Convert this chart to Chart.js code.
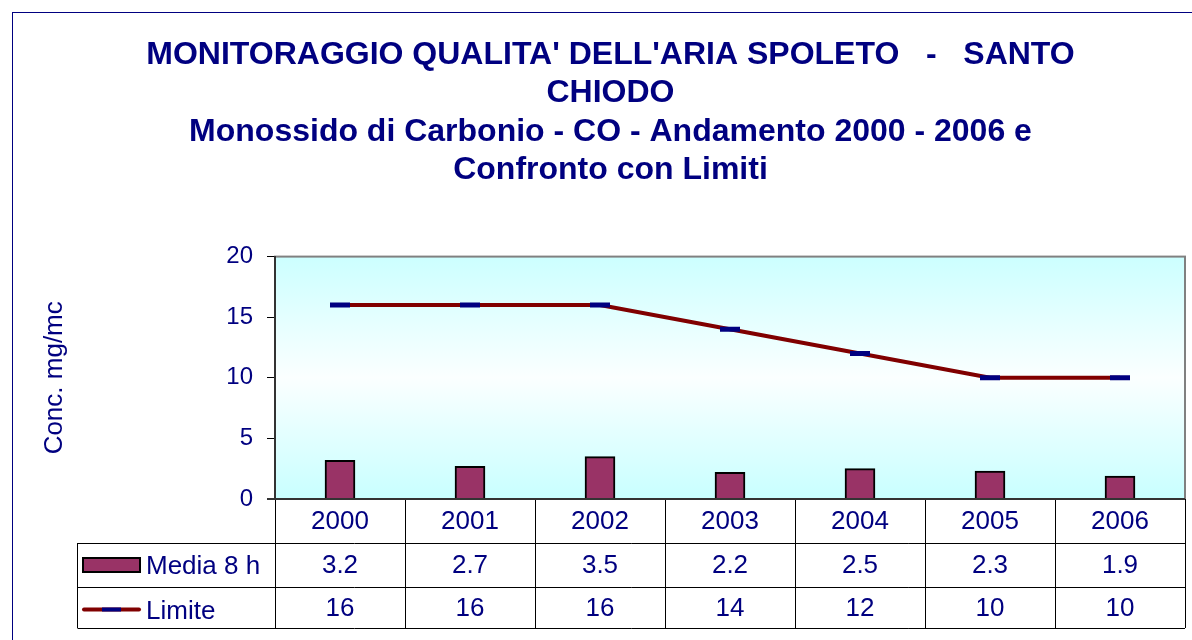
<!DOCTYPE html>
<html>
<head>
<meta charset="utf-8">
<script src="https://cdn.jsdelivr.net/npm/chart.js@4.4.1/dist/chart.umd.min.js"></script>
<style>
    html, body { margin: 0; padding: 0; background: #ffffff; }
    #wrap { width: 1192px; height: 640px; }
</style>
</head>
<body>
<div id="wrap"><canvas id="coChart" width="1192" height="640"></canvas></div>
<script>
// dati
const anni   = ['2000', '2001', '2002', '2003', '2004', '2005', '2006'];
const media8h = [3.2, 2.7, 3.5, 2.2, 2.5, 2.3, 1.9];
const limite  = [16, 16, 16, 14, 12, 10, 10];
const yTicks  = [0, 5, 10, 15, 20];

const navy = '#000080';
const font = 'Liberation Sans, Arial, sans-serif';

// sfondo area grafico + cornice esterna
const background = {
    id: 'background',
    beforeDraw(chart) {
        const ctx = chart.ctx;
        const a = chart.chartArea;
        ctx.save();
        ctx.strokeStyle = navy;
        ctx.lineWidth = 1;
        ctx.strokeRect(12.5, 12.5, chart.width + 20, chart.height + 20);

        let grad = ctx.createLinearGradient(0, a.top, 0, a.bottom);
        grad.addColorStop(0, '#ccffff');
        grad.addColorStop(0.5, '#fbffff');
        grad.addColorStop(1, '#c8ffff');
        ctx.fillStyle = grad;
        ctx.fillRect(a.left, a.top, a.right - a.left, a.bottom - a.top);
        ctx.strokeStyle = '#808080';
        ctx.lineWidth = 2;
        ctx.strokeRect(a.left, a.top, a.right - a.left, a.bottom - a.top);
        ctx.restore();
    }
};

// tabella dati sotto il grafico
const dataTable = {
    id: 'dataTable',
    afterDraw(chart) {
        const ctx = chart.ctx;
        const a = chart.chartArea;
        const x = chart.scales.x;
        const half = (a.right - a.left) / anni.length / 2;
        const rows = [a.bottom, a.bottom + 44, a.bottom + 88, a.bottom + 129];
        const legLeft = 77.5;

        ctx.save();
        ctx.strokeStyle = '#000000';
        ctx.lineWidth = 1;
        ctx.beginPath();
        for (let r = 1; r < rows.length; r++) {
            ctx.moveTo(legLeft, Math.round(rows[r]) + 0.5);
            ctx.lineTo(a.right, Math.round(rows[r]) + 0.5);
        }
        ctx.moveTo(legLeft, rows[1]);
        ctx.lineTo(legLeft, rows[3]);
        for (let i = 0; i < anni.length; i++) {
            let px = Math.round(x.getPixelForValue(i) - half) + 0.5;
            ctx.moveTo(px, rows[0]);
            ctx.lineTo(px, rows[3]);
        }
        ctx.moveTo(Math.round(a.right) + 0.5, rows[0]);
        ctx.lineTo(Math.round(a.right) + 0.5, rows[3]);
        ctx.stroke();

        // linea base asse x
        ctx.strokeStyle = '#333333';
        ctx.lineWidth = 2;
        ctx.beginPath();
        ctx.moveTo(a.left - 8, Math.round(rows[0]));
        ctx.lineTo(a.right, Math.round(rows[0]));
        ctx.stroke();

        ctx.fillStyle = navy;
        ctx.font = '26px ' + font;
        ctx.textAlign = 'center';
        ctx.textBaseline = 'middle';
        for (let i = 0; i < anni.length; i++) {
            let cx = x.getPixelForValue(i);
            ctx.fillText(anni[i], cx, (rows[0] + rows[1]) / 2 + 1);
            ctx.fillText(String(media8h[i]), cx, (rows[1] + rows[2]) / 2 + 1);
            ctx.fillText(String(limite[i]), cx, (rows[2] + rows[3]) / 2 + 1);
        }

        // legenda
        const barDs = chart.data.datasets[0];
        const lineDs = chart.data.datasets[1];
        let y1 = (rows[1] + rows[2]) / 2;
        ctx.fillStyle = barDs.backgroundColor;
        ctx.fillRect(83, y1 - 7, 57, 14);
        ctx.strokeStyle = '#000000';
        ctx.lineWidth = 2;
        ctx.strokeRect(83, y1 - 7, 57, 14);

        let y2 = (rows[2] + rows[3]) / 2 + 2;
        ctx.strokeStyle = lineDs.borderColor;
        ctx.lineWidth = 4;
        ctx.lineCap = 'round';
        ctx.beginPath();
        ctx.moveTo(84, y2);
        ctx.lineTo(139, y2);
        ctx.stroke();
        ctx.strokeStyle = lineDs.pointBorderColor;
        ctx.lineCap = 'butt';
        ctx.beginPath();
        ctx.moveTo(102, y2);
        ctx.lineTo(121, y2);
        ctx.stroke();

        ctx.fillStyle = navy;
        ctx.textAlign = 'left';
        ctx.fillText(barDs.label, 146, y1 + 2);
        ctx.fillText(lineDs.label, 146, y2 + 2);
        ctx.restore();
    }
};

const ctx = document.getElementById('coChart').getContext('2d');
const chart = new Chart(ctx, {
    type: 'bar',
    data: {
        labels: anni,
        datasets: [{
            type: 'bar',
            label: 'Media 8 h',
            data: media8h,
            backgroundColor: '#993366',
            borderColor: '#000000',
            borderWidth: 2,
            barThickness: 30,
            order: 1
        }, {
            type: 'line',
            label: 'Limite',
            data: limite,
            borderColor: '#800000',
            borderWidth: 4,
            pointStyle: 'line',
            pointRadius: 10,
            pointBorderColor: navy,
            pointBorderWidth: 5,
            tension: 0,
            order: 0
        }]
    },
    options: {
        responsive: false,
        animation: false,
        layout: { autoPadding: false, padding: { left: 36, right: 7, top: 12, bottom: 141 } },
        plugins: {
            legend: { display: false },
            tooltip: { enabled: false },
            title: {
                display: true,
                text: [
                    "MONITORAGGIO QUALITA' DELL'ARIA SPOLETO   -   SANTO",
                    'CHIODO',
                    'Monossido di Carbonio - CO - Andamento 2000 - 2006 e',
                    'Confronto con Limiti'
                ],
                color: navy,
                font: { family: font, size: 32, weight: 'bold', lineHeight: 1.2 },
                padding: { top: 24, bottom: 67 }
            }
        },
        scales: {
            x: {
                display: false,
                offset: true
            },
            y: {
                min: 0,
                max: 20,
                afterBuildTicks(scale) {
                    scale.ticks = yTicks.map(v => ({ value: v }));
                },
                afterFit(scale) {
                    scale.width = 239;
                },
                border: { display: true, color: '#333333', width: 2 },
                grid: {
                    drawOnChartArea: false,
                    drawTicks: true,
                    tickLength: 8,
                    color: '#000000'
                },
                ticks: {
                    color: navy,
                    padding: 14,
                    font: { family: font, size: 24 }
                },
                title: {
                    display: true,
                    text: 'Conc. mg/mc',
                    color: navy,
                    padding: 3,
                    font: { family: font, size: 26 }
                }
            }
        }
    },
    plugins: [background, dataTable]
});
</script>
</body>
</html>
